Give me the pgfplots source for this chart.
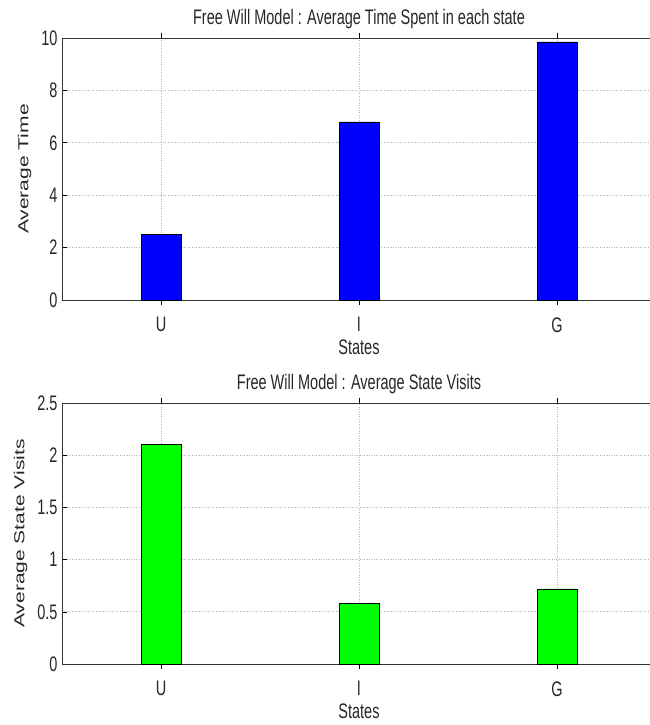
\documentclass[border=0pt]{standalone}
\usepackage{pgfplots}
\pgfplotsset{compat=1.18}
\usepackage{fontspec}
\setmainfont{Liberation Sans}
\begin{document}
\begin{tikzpicture}[x=1pt,y=1pt]
\pgfplotsset{
  common/.style={
    scale only axis,
    width=594pt,
    xmin=0.5, xmax=3.5,
    xtick={1,2,3},
    xticklabels={U,I,G},
    ymin=0,
    grid=major,
    major grid style={dotted, gray!60, line width=0.8pt},
    tick align=inside,
    major tick length=5pt,
    tick style={black, line width=0.6pt},
    axis line style={black!80, line width=0.8pt},
    font=\fontsize{14.5}{16}\selectfont,
    tick label style={font=\fontsize{14.5}{16}\selectfont, yscale=1.45, text=black!85},
    /pgf/number format/assume math mode=true,
    xticklabel style={yshift=-5pt},
    yticklabel style={xshift=-1pt},
    xlabel={States},
    xlabel style={yshift=2pt, yscale=1.45, text=black!85},
    ylabel style={yshift=3pt, xscale=1.45, text=black!85},
    title style={yshift=-2pt, yscale=1.45, text=black!85},
    ybar,
    bar width=0.2,
  }
}
\begin{axis}[common,
  name=top,
  at={(0pt,0pt)}, anchor=south west,
  height=262pt,
  ymax=10,
  ytick={0,2,4,6,8,10},
  title={Free Will Model : Average Time Spent in each state},
  ylabel={Average Time},
]
\addplot[fill={rgb,1:red,0;green,0;blue,1}, draw=black, line width=0.6pt] coordinates {(1,2.5) (2,6.8) (3,9.85)};
\end{axis}
\begin{axis}[common,
  name=bot,
  at={(0pt,-364pt)}, anchor=south west,
  height=261pt,
  ymax=2.5,
  ytick={0,0.5,1,1.5,2,2.5},
  title={Free Will Model : Average State Visits},
  ylabel={Average State Visits},
]
\addplot[fill={rgb,1:red,0;green,1;blue,0}, draw=black, line width=0.6pt] coordinates {(1,2.1) (2,0.58) (3,0.72)};
\end{axis}
\pgfresetboundingbox
\path[use as bounding box] (-62pt,-425pt) rectangle (587pt,300pt);
\end{tikzpicture}
\end{document}
